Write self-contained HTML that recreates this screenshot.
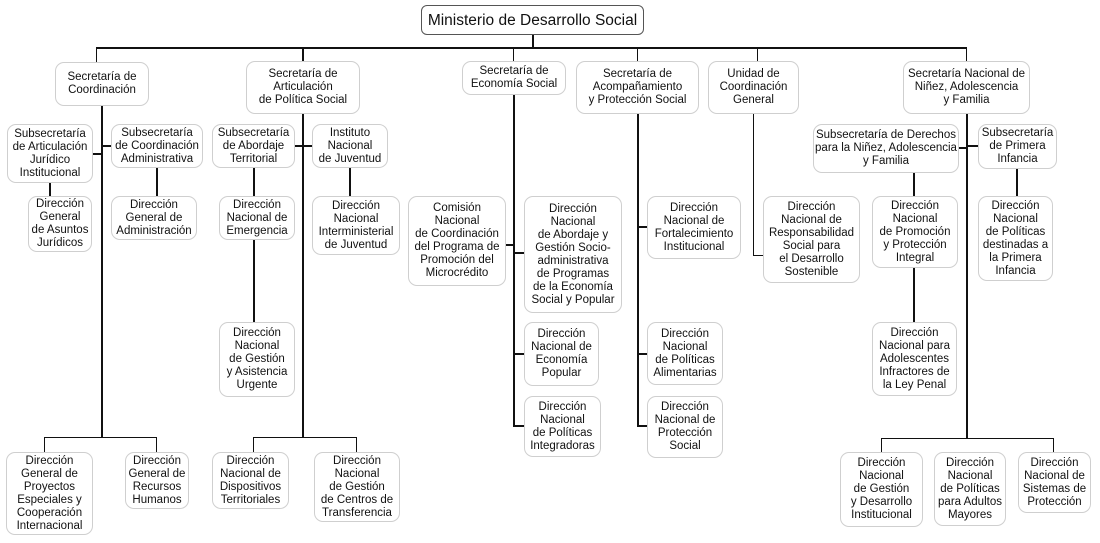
<!DOCTYPE html>
<html><head><meta charset="utf-8"><style>
body{margin:0;width:1100px;height:543px;background:#fff;position:relative;overflow:hidden;font-family:"Liberation Sans","DejaVu Sans",sans-serif;color:#111}
.b{position:absolute;box-sizing:border-box;border:1.5px solid #cfcfcf;border-radius:9px;background:#fff;display:flex;align-items:center;justify-content:center;text-align:center;font-size:11.5px;line-height:13px;padding:0 1px;white-space:nowrap}
.l{position:absolute;background:#111}
</style></head><body>
<div class="l" style="left:96px;top:47px;width:871px;height:2px"></div>
<div class="l" style="left:532px;top:34px;width:2px;height:14px"></div>
<div class="l" style="left:96px;top:47px;width:1px;height:15px"></div>
<div class="l" style="left:302px;top:47px;width:2px;height:15px"></div>
<div class="l" style="left:513px;top:47px;width:1px;height:15px"></div>
<div class="l" style="left:637px;top:47px;width:1px;height:15px"></div>
<div class="l" style="left:757px;top:47px;width:1px;height:15px"></div>
<div class="l" style="left:966px;top:47px;width:1px;height:15px"></div>
<div class="l" style="left:101px;top:105px;width:2px;height:333px"></div>
<div class="l" style="left:44px;top:437px;width:113px;height:1px"></div>
<div class="l" style="left:44px;top:437px;width:1px;height:16px"></div>
<div class="l" style="left:156px;top:437px;width:1px;height:16px"></div>
<div class="l" style="left:93px;top:153px;width:9px;height:2px"></div>
<div class="l" style="left:102px;top:145px;width:10px;height:2px"></div>
<div class="l" style="left:49px;top:183px;width:2px;height:14px"></div>
<div class="l" style="left:156px;top:167px;width:2px;height:30px"></div>
<div class="l" style="left:302px;top:113px;width:2px;height:325px"></div>
<div class="l" style="left:253px;top:437px;width:104px;height:1px"></div>
<div class="l" style="left:253px;top:437px;width:1px;height:16px"></div>
<div class="l" style="left:356px;top:437px;width:1px;height:16px"></div>
<div class="l" style="left:294px;top:145px;width:19px;height:2px"></div>
<div class="l" style="left:253px;top:167px;width:2px;height:156px"></div>
<div class="l" style="left:349px;top:167px;width:2px;height:30px"></div>
<div class="l" style="left:513px;top:94px;width:2px;height:332px"></div>
<div class="l" style="left:505px;top:244px;width:9px;height:2px"></div>
<div class="l" style="left:513px;top:252px;width:12px;height:2px"></div>
<div class="l" style="left:513px;top:353px;width:12px;height:2px"></div>
<div class="l" style="left:513px;top:425px;width:12px;height:2px"></div>
<div class="l" style="left:637px;top:114px;width:2px;height:313px"></div>
<div class="l" style="left:637px;top:226px;width:11px;height:2px"></div>
<div class="l" style="left:637px;top:353px;width:11px;height:2px"></div>
<div class="l" style="left:637px;top:425px;width:11px;height:2px"></div>
<div class="l" style="left:753px;top:114px;width:1px;height:142px"></div>
<div class="l" style="left:753px;top:255px;width:11px;height:1px"></div>
<div class="l" style="left:966px;top:114px;width:2px;height:325px"></div>
<div class="l" style="left:881px;top:438px;width:173px;height:1px"></div>
<div class="l" style="left:881px;top:438px;width:1px;height:15px"></div>
<div class="l" style="left:1053px;top:438px;width:1px;height:15px"></div>
<div class="l" style="left:958px;top:147px;width:9px;height:2px"></div>
<div class="l" style="left:967px;top:145px;width:12px;height:2px"></div>
<div class="l" style="left:913px;top:172px;width:2px;height:151px"></div>
<div class="l" style="left:1016px;top:168px;width:2px;height:29px"></div>

<div class="b" style="left:421px;top:5px;width:223px;height:30px;border-color:#555;border-radius:6px;font-size:15.5px">Ministerio de Desarrollo Social</div>
<div class="b" style="left:55px;top:62px;width:94px;height:44px">Secretaría de<br>Coordinación</div>
<div class="b" style="left:246px;top:61px;width:114px;height:53px">Secretaría de<br>Articulación<br>de Política Social</div>
<div class="b" style="left:462px;top:61px;width:104px;height:34px">Secretaría de<br>Economía Social</div>
<div class="b" style="left:576px;top:61px;width:123px;height:53px">Secretaría de<br>Acompañamiento<br>y Protección Social</div>
<div class="b" style="left:708px;top:61px;width:91px;height:53px">Unidad de<br>Coordinación<br>General</div>
<div class="b" style="left:903px;top:61px;width:127px;height:53px">Secretaría Nacional de<br>Niñez, Adolescencia<br>y Familia</div>

<div class="b" style="left:7px;top:124px;width:86px;height:59px">Subsecretaría<br>de Articulación<br>Jurídico<br>Institucional</div>
<div class="b" style="left:111px;top:124px;width:92px;height:44px">Subsecretaría<br>de Coordinación<br>Administrativa</div>
<div class="b" style="left:28px;top:196px;width:64px;height:56px">Dirección<br>General<br>de Asuntos<br>Jurídicos</div>
<div class="b" style="left:111px;top:196px;width:86px;height:44px">Dirección<br>General de<br>Administración</div>
<div class="b" style="left:6px;top:452px;width:87px;height:83px">Dirección<br>General de<br>Proyectos<br>Especiales y<br>Cooperación<br>Internacional</div>
<div class="b" style="left:125px;top:452px;width:64px;height:57px">Dirección<br>General de<br>Recursos<br>Humanos</div>

<div class="b" style="left:212px;top:124px;width:83px;height:44px">Subsecretaría<br>de Abordaje<br>Territorial</div>
<div class="b" style="left:312px;top:124px;width:76px;height:44px">Instituto<br>Nacional<br>de Juventud</div>
<div class="b" style="left:219px;top:196px;width:76px;height:44px">Dirección<br>Nacional de<br>Emergencia</div>
<div class="b" style="left:312px;top:196px;width:88px;height:59px">Dirección<br>Nacional<br>Interministerial<br>de Juventud</div>
<div class="b" style="left:219px;top:322px;width:76px;height:75px">Dirección<br>Nacional<br>de Gestión<br>y Asistencia<br>Urgente</div>
<div class="b" style="left:212px;top:452px;width:77px;height:57px">Dirección<br>Nacional de<br>Dispositivos<br>Territoriales</div>
<div class="b" style="left:314px;top:452px;width:86px;height:70px">Dirección<br>Nacional<br>de Gestión<br>de Centros de<br>Transferencia</div>

<div class="b" style="left:408px;top:196px;width:98px;height:90px">Comisión<br>Nacional<br>de Coordinación<br>del Programa de<br>Promoción del<br>Microcrédito</div>
<div class="b" style="left:524px;top:196px;width:98px;height:117px">Dirección<br>Nacional<br>de Abordaje y<br>Gestión Socio-<br>administrativa<br>de Programas<br>de la Economía<br>Social y Popular</div>
<div class="b" style="left:524px;top:322px;width:75px;height:64px">Dirección<br>Nacional de<br>Economía<br>Popular</div>
<div class="b" style="left:524px;top:396px;width:77px;height:61px">Dirección<br>Nacional<br>de Políticas<br>Integradoras</div>

<div class="b" style="left:647px;top:196px;width:94px;height:63px">Dirección<br>Nacional de<br>Fortalecimiento<br>Institucional</div>
<div class="b" style="left:647px;top:322px;width:76px;height:63px">Dirección<br>Nacional<br>de Políticas<br>Alimentarias</div>
<div class="b" style="left:647px;top:396px;width:76px;height:62px">Dirección<br>Nacional de<br>Protección<br>Social</div>

<div class="b" style="left:763px;top:196px;width:97px;height:87px">Dirección<br>Nacional de<br>Responsabilidad<br>Social para<br>el Desarrollo<br>Sostenible</div>

<div class="b" style="left:813px;top:124px;width:146px;height:49px">Subsecretaría de Derechos<br>para la Niñez, Adolescencia<br>y Familia</div>
<div class="b" style="left:978px;top:124px;width:79px;height:45px">Subsecretaría<br>de Primera<br>Infancia</div>
<div class="b" style="left:872px;top:196px;width:86px;height:72px">Dirección<br>Nacional<br>de Promoción<br>y Protección<br>Integral</div>
<div class="b" style="left:978px;top:196px;width:75px;height:85px">Dirección<br>Nacional<br>de Políticas<br>destinadas a<br>la Primera<br>Infancia</div>
<div class="b" style="left:872px;top:322px;width:85px;height:74px">Dirección<br>Nacional para<br>Adolescentes<br>Infractores de<br>la Ley Penal</div>
<div class="b" style="left:840px;top:452px;width:83px;height:75px">Dirección<br>Nacional<br>de Gestión<br>y Desarrollo<br>Institucional</div>
<div class="b" style="left:934px;top:452px;width:72px;height:74px">Dirección<br>Nacional<br>de Políticas<br>para Adultos<br>Mayores</div>
<div class="b" style="left:1018px;top:452px;width:73px;height:61px">Dirección<br>Nacional de<br>Sistemas de<br>Protección</div>
</body></html>
